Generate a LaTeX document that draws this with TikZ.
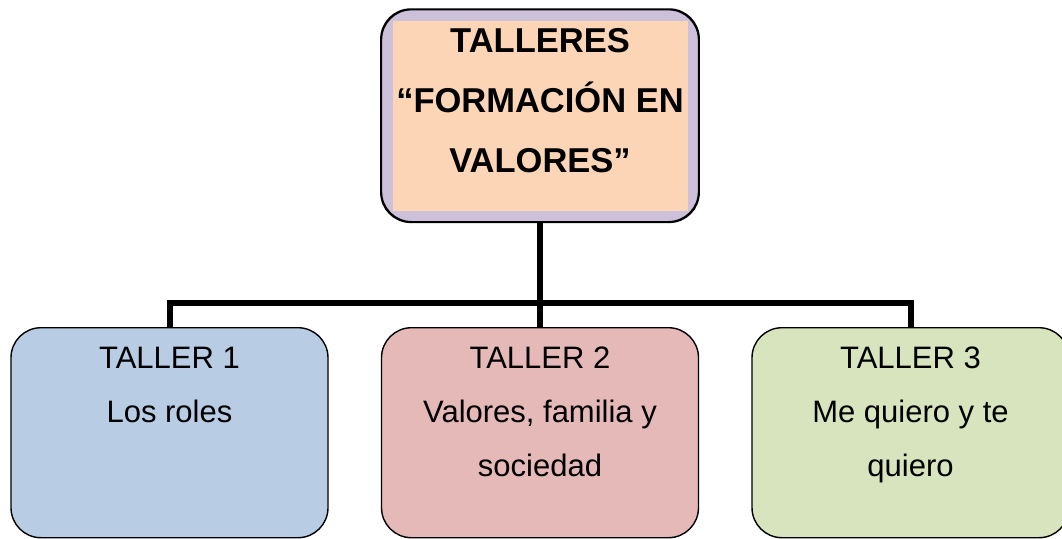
\documentclass[tikz,border=0pt]{standalone}
\usepackage{fontspec}
\setmainfont{Liberation Sans}
\definecolor{peach}{HTML}{FBD5B5}
\definecolor{lilac}{HTML}{CCC0DA}
\definecolor{boxblue}{HTML}{B8CCE4}
\definecolor{boxred}{HTML}{E5B9B7}
\definecolor{boxgreen}{HTML}{D7E4BD}
\begin{document}
\begin{tikzpicture}[x=1pt,y=-1pt,
  card/.style={draw=black, line width=1.4pt, rounded corners=30pt, minimum width=317pt, minimum height=210pt, inner sep=0pt, anchor=north},
  toptext/.style={anchor=north, inner sep=0pt, align=center, font=\fontsize{34.5}{60}\selectfont\bfseries},
  subtext/.style={anchor=north, inner sep=0pt, align=center, font=\fontsize{31}{54}\selectfont},
  link/.style={line width=6pt, line cap=butt}]
\useasboundingbox (0,0) rectangle (1062,538);
% top box
\node[card, fill=lilac, minimum height=212pt] (top) at (540,9) {};
\begin{scope}
  \clip[rounded corners=30pt] (top.south west) rectangle (top.north east);
  \fill[peach] (393,21) rectangle (688,211);
\end{scope}
\draw[line width=1.4pt, rounded corners=30pt] (top.south west) rectangle (top.north east);
\node[toptext] (toplbl) at (540,28) {TALLERES\\“FORMACIÓN EN\\VALORES”};
% bottom boxes
\node[card, fill=boxblue] (t1) at (169.5,327) {};
\node[card, fill=boxred] (t2) at (540,327) {};
\node[card, fill=boxgreen] (t3) at (910.5,327) {};
\node[subtext] (l1) at (169.5,346.8) {TALLER 1\\Los roles};
\node[subtext] (l2) at (540,346.8) {TALLER 2\\Valores, familia y\\sociedad};
\node[subtext] (l3) at (910.5,346.8) {TALLER 3\\Me quiero y te\\quiero};
% connectors
\coordinate (bar) at (540,303);
\draw[link] (top.south) -- (bar);
\draw[link] (t1.north) |- (bar) -| (t3.north);
\draw[link] (bar) -- (t2.north);
\end{tikzpicture}
\end{document}
